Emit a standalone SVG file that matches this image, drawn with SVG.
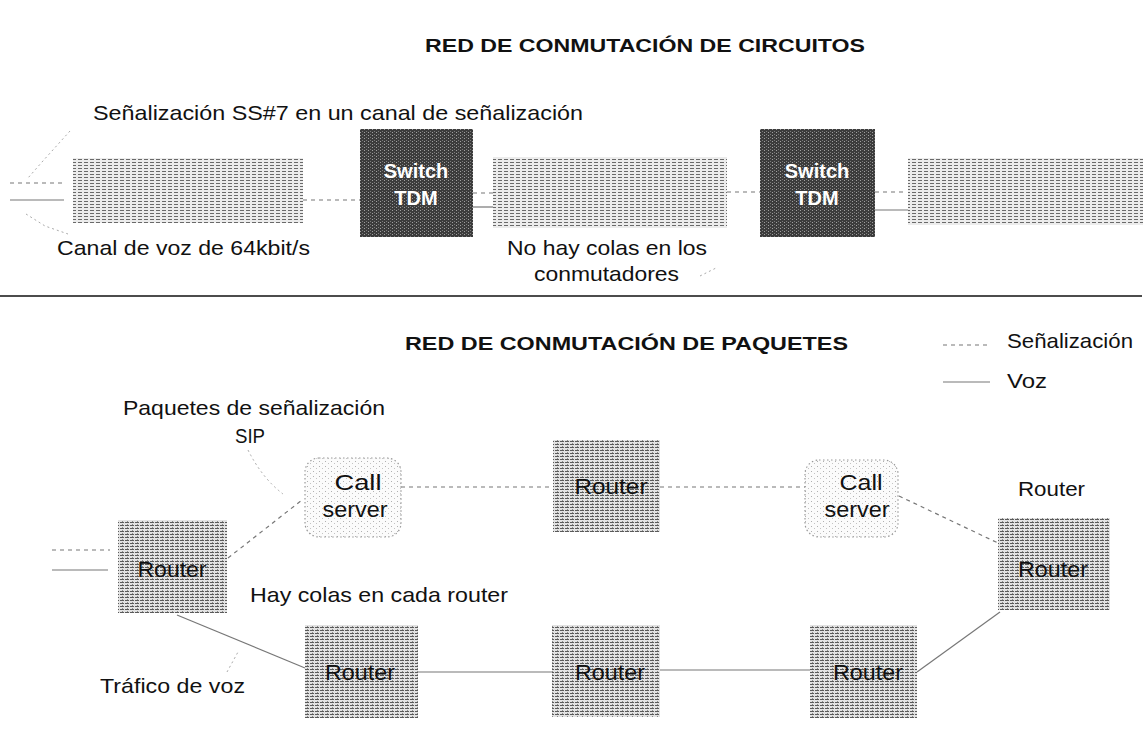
<svg xmlns="http://www.w3.org/2000/svg" width="1146" height="736" viewBox="0 0 1146 736">
<style>
  text { font-family: "Liberation Sans", Arial, sans-serif; fill: #111; }
  .t { font-size: 21px; }
  .title { font-size: 19px; font-weight: bold; }
  .sw { font-size: 20px; font-weight: bold; fill: #fff; text-anchor: middle; }
  .node { font-size: 22px; text-anchor: middle; }
  .sig { stroke: #777; stroke-width: 1.2; stroke-dasharray: 4 4; fill: none; }
  .voz { stroke: #777; stroke-width: 1.2; fill: none; }
  .faint { stroke: #aaa; stroke-width: 1; stroke-dasharray: 2 3; fill: none; }
  .chan { fill: url(#pChan); }
  .router { fill: url(#pRouter); }
  .switch { fill: url(#pSwitch); }
  .cs { fill: url(#pCs); stroke: #999; stroke-width: 1.2; stroke-dasharray: 1.5 2.5; }
</style>
<defs>
  <pattern id="pChan" width="6" height="3" patternUnits="userSpaceOnUse">
    <rect width="6" height="3" fill="#ececec"/>
    <rect x="0" y="0" width="4" height="1" fill="#6a6a6a"/>
  </pattern>
  <pattern id="pRouter" width="5" height="3" patternUnits="userSpaceOnUse">
    <rect width="5" height="3" fill="#e2e2e2"/>
    <rect x="0" y="0" width="4" height="1" fill="#5a5a5a"/>
    <rect x="2" y="2" width="1" height="1" fill="#8a8a8a"/>
  </pattern>
  <pattern id="pSwitch" width="4" height="3" patternUnits="userSpaceOnUse">
    <rect width="4" height="3" fill="#3c3c3c"/>
    <rect x="0" y="0" width="1" height="1" fill="#a0a0a0"/>
    <rect x="2" y="2" width="1" height="1" fill="#7a7a7a"/>
  </pattern>
  <pattern id="pCs" width="6" height="5" patternUnits="userSpaceOnUse">
    <rect width="6" height="5" fill="#fbfbfb"/>
    <rect x="1" y="1" width="1" height="1" fill="#b0b0b0"/>
    <rect x="4" y="3" width="1" height="1" fill="#c4c4c4"/>
  </pattern>
</defs>
<rect width="1146" height="736" fill="#fff"/>

<!-- Titles and labels -->
<text class="title" x="425" y="52" textLength="440" lengthAdjust="spacingAndGlyphs">RED DE CONMUTACIÓN DE CIRCUITOS</text>
<text class="t" x="93" y="120" textLength="490" lengthAdjust="spacingAndGlyphs">Señalización SS#7 en un canal de señalización</text>
<text class="t" x="57" y="255" textLength="253" lengthAdjust="spacingAndGlyphs">Canal de voz de 64kbit/s</text>
<text class="t" x="507" y="255" textLength="200" lengthAdjust="spacingAndGlyphs">No hay colas en los</text>
<text class="t" x="534" y="281" textLength="145" lengthAdjust="spacingAndGlyphs">conmutadores</text>

<line x1="0" y1="296" x2="1142" y2="296" stroke="#111" stroke-width="1.5"/>

<text class="title" x="405" y="350" textLength="443" lengthAdjust="spacingAndGlyphs">RED DE CONMUTACIÓN DE PAQUETES</text>
<text class="t" x="1007" y="348" textLength="126" lengthAdjust="spacingAndGlyphs">Señalización</text>
<text class="t" x="1007" y="388" textLength="40" lengthAdjust="spacingAndGlyphs">Voz</text>
<text class="t" x="123" y="415" textLength="262" lengthAdjust="spacingAndGlyphs">Paquetes de señalización</text>
<text class="t" x="235" y="443" textLength="30" lengthAdjust="spacingAndGlyphs">SIP</text>
<text class="t" x="1018" y="496" textLength="67" lengthAdjust="spacingAndGlyphs">Router</text>
<text class="t" x="250" y="602" textLength="258" lengthAdjust="spacingAndGlyphs">Hay colas en cada router</text>
<text class="t" x="100" y="693" textLength="145" lengthAdjust="spacingAndGlyphs">Tráfico de voz</text>

<!-- Connectors -->
<g id="connectors">
  <!-- circuit network -->
  <line class="sig" x1="10" y1="183" x2="66" y2="183"/>
  <line class="voz" x1="10" y1="200" x2="64" y2="200"/>
  <line class="sig" x1="303" y1="200" x2="360" y2="200"/>
  <line class="sig" x1="473" y1="193" x2="493" y2="193"/>
  <line class="voz" x1="473" y1="207" x2="493" y2="207"/>
  <line class="sig" x1="727" y1="192" x2="760" y2="192"/>
  <line class="sig" x1="875" y1="192" x2="906" y2="192"/>
  <line class="voz" x1="875" y1="210" x2="908" y2="210"/>
  <polyline class="faint" points="70,131 42,162 28,178"/>
  <polyline class="faint" points="26,214 45,226 68,234"/>
  <line class="faint" x1="700" y1="276" x2="716" y2="268"/>
  <!-- legend -->
  <line class="sig" x1="943" y1="345" x2="990" y2="345"/>
  <line class="voz" x1="943" y1="382" x2="990" y2="382"/>
  <!-- packet network -->
  <line class="sig" x1="52" y1="550" x2="110" y2="550"/>
  <line class="voz" x1="52" y1="570" x2="108" y2="570"/>
  <line class="sig" x1="228" y1="558" x2="302" y2="500"/>
  <line class="sig" x1="401" y1="487" x2="553" y2="487"/>
  <line class="sig" x1="660" y1="487" x2="805" y2="487"/>
  <line class="sig" x1="899" y1="496" x2="998" y2="543"/>
  <line class="voz" x1="177" y1="615" x2="305" y2="668"/>
  <line class="voz" x1="418" y1="672" x2="552" y2="672"/>
  <line class="voz" x1="660" y1="670" x2="810" y2="670"/>
  <line class="voz" x1="917" y1="672" x2="1000" y2="612"/>
  <path class="faint" d="M248,450 Q262,478 283,494"/>
  <line class="faint" x1="227" y1="672" x2="238" y2="652"/>
</g>

<!-- Circuit network nodes -->
<g id="chan1"><rect class="chan" x="73" y="158" width="230" height="65"/></g>
<g id="switch1">
  <rect class="switch" x="360" y="129" width="113" height="108"/>
  <text class="sw" x="416" y="178">Switch</text>
  <text class="sw" x="416" y="205">TDM</text>
</g>
<g id="chan2"><rect class="chan" x="493" y="157" width="234" height="71"/></g>
<g id="switch2">
  <rect class="switch" x="760" y="129" width="115" height="108"/>
  <text class="sw" x="817" y="178">Switch</text>
  <text class="sw" x="817" y="205">TDM</text>
</g>
<g id="chan3"><rect class="chan" x="908" y="158" width="235" height="67"/></g>

<!-- Packet network nodes -->
<g id="callserver1">
  <rect class="cs" x="305" y="458" width="96" height="79" rx="14"/>
  <text class="node" x="358" y="490" textLength="47" lengthAdjust="spacingAndGlyphs">Call</text>
  <text class="node" x="355" y="517" textLength="65" lengthAdjust="spacingAndGlyphs">server</text>
</g>
<g id="router-top">
  <rect class="router" x="553" y="440" width="107" height="92"/>
  <text class="node" x="611" y="494" textLength="73" lengthAdjust="spacingAndGlyphs">Router</text>
</g>
<g id="callserver2">
  <rect class="cs" x="805" y="460" width="93" height="77" rx="14"/>
  <text class="node" x="861" y="490" textLength="43" lengthAdjust="spacingAndGlyphs">Call</text>
  <text class="node" x="857" y="517" textLength="65" lengthAdjust="spacingAndGlyphs">server</text>
</g>
<g id="router-left">
  <rect class="router" x="118" y="520" width="109" height="93"/>
  <text class="node" x="172" y="577" textLength="69" lengthAdjust="spacingAndGlyphs">Router</text>
</g>
<g id="router-right">
  <rect class="router" x="998" y="518" width="112" height="92"/>
  <text class="node" x="1053" y="577" textLength="70" lengthAdjust="spacingAndGlyphs">Router</text>
</g>
<g id="router-b1">
  <rect class="router" x="305" y="625" width="113" height="93"/>
  <text class="node" x="360" y="680" textLength="70" lengthAdjust="spacingAndGlyphs">Router</text>
</g>
<g id="router-b2">
  <rect class="router" x="552" y="625" width="108" height="92"/>
  <text class="node" x="610" y="680" textLength="70" lengthAdjust="spacingAndGlyphs">Router</text>
</g>
<g id="router-b3">
  <rect class="router" x="810" y="625" width="107" height="93"/>
  <text class="node" x="868" y="680" textLength="70" lengthAdjust="spacingAndGlyphs">Router</text>
</g>
</svg>
